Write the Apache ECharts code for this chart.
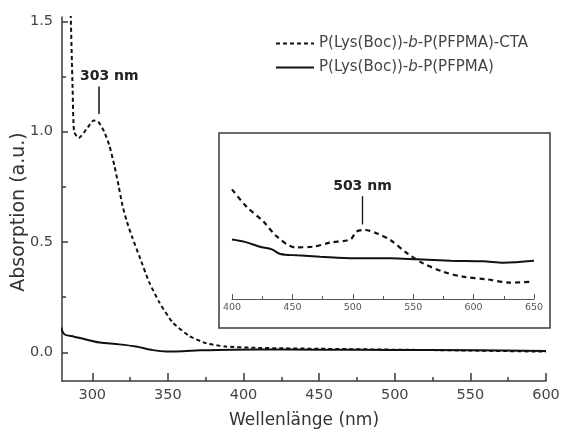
<!DOCTYPE html>
<html>
<head>
<meta charset="utf-8">
<script src="https://cdn.jsdelivr.net/npm/echarts@6/dist/echarts.min.js"></script>
<style>
  html, body { margin: 0; padding: 0; background: #fff; }
  #chart { width: 561px; height: 430px; }
</style>
</head>
<body>
<div id="chart"></div>
<script>
// main spectrum (wavelength nm, absorption a.u.)
var ctaSpectrum = [[283, 2.2], [285.5, 1.6], [287, 1.2], [288, 1.0], [291, 0.971], [296, 1.01], [301, 1.051],
	[304, 1.045], [308, 0.999], [311.3, 0.938], [314.6, 0.847], [317.4, 0.756], [320, 0.665],
	[323, 0.59], [326.5, 0.52], [331, 0.438], [337.7, 0.317], [344.4, 0.226], [353.2, 0.135],
	[364.2, 0.074], [375.3, 0.041], [388.5, 0.026], [410, 0.02], [450, 0.016], [500, 0.012],
	[550, 0.008], [600, 0.003]];
var noCtaSpectrum = [[279.5, 0.112], [281.5, 0.082], [288, 0.071], [300, 0.051], [305, 0.044],
	[318, 0.036], [329, 0.026], [340, 0.01], [349, 0.004], [360, 0.005], [371, 0.009], [410, 0.013],
	[450, 0.012], [500, 0.011], [550, 0.009], [600, 0.006]];

// inset (400-650 nm, relative scale)
var ctaInset = [[400, 0.736], [412, 0.62], [426, 0.52], [437, 0.42], [452, 0.347], [467, 0.351],
	[481, 0.378], [498, 0.40], [503, 0.452], [510, 0.463], [520, 0.44], [531, 0.396],
	[545, 0.307], [558, 0.24], [575, 0.183], [591, 0.15], [611, 0.132], [630, 0.11], [649, 0.116]];
var noCtaInset = [[400, 0.40], [410, 0.385], [423, 0.351], [433, 0.333], [440, 0.302], [454, 0.293],
	[473, 0.284], [501, 0.273], [531, 0.273], [553, 0.266], [581, 0.257], [608, 0.253],
	[625, 0.244], [650, 0.257]];

var xMajor = [300, 350, 400, 450, 500, 550, 600];
var xMinor = [325, 375, 425, 475, 525, 575];
var yMajor = [0, 0.5, 1.0, 1.5];
var yMinor = [0.25, 0.75, 1.25];

var names = ['P(Lys(Boc))-b-P(PFPMA)-CTA', 'P(Lys(Boc))-b-P(PFPMA)'];

var chart = echarts.init(document.getElementById('chart'));
var font = 'DejaVu Sans';
var axisColor = '#3a3a3a';
var hiddenLine = { show: true, onZero: false, lineStyle: { color: 'rgba(0,0,0,0)' } };

var option = {
	backgroundColor: '#fff',
	animation: false,
	textStyle: { fontFamily: font },
	legend: {
		data: names,
		orient: 'vertical',
		left: 270,
		top: 31,
		itemGap: 9,
		itemWidth: 38,
		itemHeight: 12,
		itemStyle: { opacity: 0 },
		textStyle: {
			fontFamily: font, fontSize: 15, color: '#444',
			rich: {
				i: { fontFamily: font, fontSize: 15, color: '#444', fontStyle: 'italic' }
			}
		},
		formatter: function (n) {
			return n.replace('-b-', '-{i|b}-');
		}
	},
	graphic: [{
		type: 'rect',
		shape: { x: 219, y: 133, width: 331, height: 195 },
		style: { fill: '#fff', stroke: axisColor, lineWidth: 1.5 },
		z: 0
	}],
	grid: [
		{ left: 62, right: 15, top: 17, bottom: 49, outerBoundsMode: 'none' },
		{ left: 232, right: 27, top: 150, bottom: 131, outerBoundsMode: 'none' }
	],
	xAxis: [{
		gridIndex: 0, type: 'value', min: 280, max: 600, position: 'bottom',
		axisLine: { onZero: false, lineStyle: { color: axisColor, width: 1.5 } },
		axisTick: { inside: true, length: 8, lineStyle: { width: 1.5 }, customValues: xMajor },
		axisLabel: { customValues: xMajor, fontSize: 14.5, color: '#444', margin: 7 },
		splitLine: { show: false },
		name: 'Wellenlänge (nm)', nameLocation: 'middle', nameGap: 31, nameMoveOverlap: false,
		nameTextStyle: { fontSize: 17, color: '#333' }
	}, {
		gridIndex: 0, type: 'value', min: 280, max: 600, position: 'bottom',
		axisLine: hiddenLine,
		axisTick: { show: true, inside: true, length: 4, lineStyle: { color: axisColor, width: 1.5 }, customValues: xMinor },
		axisLabel: { show: false },
		splitLine: { show: false }
	}, {
		gridIndex: 1, type: 'value', min: 400, max: 650, interval: 50,
		axisLine: { onZero: false, lineStyle: { color: '#555', width: 1 } },
		axisTick: { inside: true, length: 5, lineStyle: { width: 1 } },
		minorTick: { show: true, splitNumber: 2, length: 3, lineStyle: { color: '#555' } },
		axisLabel: { fontSize: 9.5, color: '#555', margin: 4 },
		splitLine: { show: false }
	}],
	yAxis: [{
		gridIndex: 0, type: 'value', min: -0.13, max: 1.52, position: 'left',
		axisLine: { show: true, onZero: false, lineStyle: { color: axisColor, width: 1.5 } },
		axisTick: { show: true, inside: true, length: 6, lineStyle: { width: 1.5 }, customValues: yMajor },
		axisLabel: { customValues: yMajor, fontSize: 14.5, color: '#444', margin: 9,
			formatter: function (v) { return v.toFixed(1); } },
		splitLine: { show: false },
		name: 'Absorption (a.u.)', nameLocation: 'middle', nameGap: 33, nameRotate: 90,
		nameMoveOverlap: false,
		nameTextStyle: { fontSize: 19, color: '#333', padding: [0, 0, 0, -26] }
	}, {
		gridIndex: 0, type: 'value', min: -0.13, max: 1.52, position: 'left',
		axisLine: hiddenLine,
		axisTick: { show: true, inside: true, length: 4, lineStyle: { color: axisColor, width: 1.5 }, customValues: yMinor },
		axisLabel: { show: false },
		splitLine: { show: false }
	}, {
		gridIndex: 1, type: 'value', min: 0, max: 1, show: false
	}],
	series: [{
		name: names[0], type: 'line', xAxisIndex: 0, yAxisIndex: 0,
		data: ctaSpectrum, smooth: 0.2, symbol: 'none', clip: true,
		lineStyle: { color: '#111', width: 2, type: [4, 3] },
		itemStyle: { color: '#111' },
		markLine: {
			silent: true, symbol: 'none',
			lineStyle: { color: '#111', type: 'solid', width: 1.5 },
			label: { position: 'end', formatter: '303 nm', fontSize: 14, fontWeight: 'bold',
				color: '#222', fontFamily: font, distance: 3, padding: [0, 0, 0, 22] },
			data: [[{ coord: [304, 1.08] }, { coord: [304, 1.205] }]]
		}
	}, {
		name: names[1], type: 'line', xAxisIndex: 0, yAxisIndex: 0,
		data: noCtaSpectrum, smooth: 0.3, symbol: 'none',
		lineStyle: { color: '#111', width: 2 },
		itemStyle: { color: '#111' }
	}, {
		name: names[0], type: 'line', xAxisIndex: 2, yAxisIndex: 2,
		data: ctaInset, smooth: 0.3, symbol: 'none', z: 5,
		lineStyle: { color: '#111', width: 2.2, type: [5, 4] },
		markLine: {
			silent: true, symbol: 'none',
			lineStyle: { color: '#111', type: 'solid', width: 1.3 },
			label: { position: 'end', formatter: '503 nm', fontSize: 14, fontWeight: 'bold',
				color: '#222', fontFamily: font, distance: 3 },
			data: [[{ coord: [508, 0.5] }, { coord: [508, 0.69] }]]
		}
	}, {
		name: names[1], type: 'line', xAxisIndex: 2, yAxisIndex: 2,
		data: noCtaInset, smooth: 0.3, symbol: 'none', z: 5,
		lineStyle: { color: '#111', width: 2 }
	}]
};

chart.setOption(option);
window.onresize = function () { chart.resize(); };
</script>
</body>
</html>
